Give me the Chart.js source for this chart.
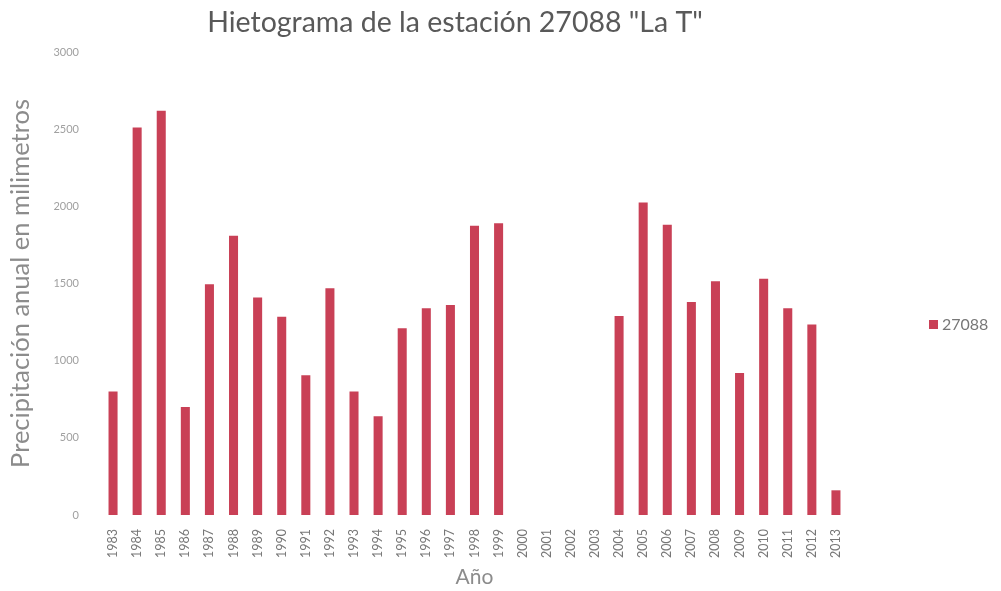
<!DOCTYPE html>
<html>
<head>
<meta charset="utf-8">
<title>Hietograma 27088</title>
<script src="https://cdn.jsdelivr.net/npm/chart.js@4/dist/chart.umd.min.js"></script>
<style>
  html, body { margin: 0; padding: 0; background: #fff; }
  #wrap { width: 1001px; height: 591px; position: relative; }
</style>
</head>
<body>
<div id="wrap"><canvas id="myChart"></canvas></div>
<script>
var years = ['1983', '1984', '1985', '1986', '1987', '1988', '1989', '1990', '1991', '1992',
  '1993', '1994', '1995', '1996', '1997', '1998', '1999', '2000', '2001', '2002', '2003',
  '2004', '2005', '2006', '2007', '2008', '2009', '2010', '2011', '2012', '2013'];
// precipitacion anual (mm), sin registro 2000-2003
var precip = [800, 2510, 2620, 700, 1495, 1810, 1410, 1285, 905, 1470,
  800, 640, 1210, 1340, 1360, 1875, 1890, null, null, null, null,
  1290, 2025, 1880, 1380, 1515, 920, 1530, 1340, 1235, 160];
var yTicks = [0, 500, 1000, 1500, 2000, 2500, 3000];
var seriesName = '27088';
var chartTitle = 'Hietograma de la estación 27088 "La T"';

var barColor = '#c94056';
var ctx, myChart;

// titulo y leyenda dibujados a mano para dejarlos donde van
var titleAndKey = {
  id: 'titleAndKey',
  afterDraw: function (chart) {
    var c = chart.ctx;
    c.save();
    c.fillStyle = '#595959';
    c.font = '28.5px Lato';
    c.textAlign = 'center';
    c.textBaseline = 'middle';
    c.fillText(chartTitle, 455, 23);

    c.fillStyle = barColor;
    c.fillRect(929, 320, 9, 9);
    c.fillStyle = '#777';
    c.font = '16px Lato';
    c.textAlign = 'left';
    c.fillText(seriesName, 942, 325);
    c.restore();
  }
};

ctx = document.getElementById('myChart');
myChart = new Chart(ctx, {
  type: 'bar',
  data: {
    labels: years,
    datasets: [{
      label: seriesName,
      data: precip,
      backgroundColor: barColor,
      barPercentage: 0.75,
      categoryPercentage: 0.5
    }]
  },
  options: {
    responsive: true,
    maintainAspectRatio: false,
    animation: false,
    layout: {
      padding: { left: 0, right: 153, top: 52, bottom: 0 }
    },
    plugins: {
      legend: { display: false },
      title: { display: false },
      tooltip: { enabled: false }
    },
    scales: {
      x: {
        grid: { display: false },
        border: { display: false },
        ticks: {
          color: '#777',
          font: { family: 'Lato', size: 12.5 },
          minRotation: 90,
          maxRotation: 90,
          padding: 6,
          autoSkip: false
        },
        title: {
          display: true,
          text: 'Año',
          color: '#8c8c8c',
          font: { family: 'Lato', size: 21 },
          padding: { top: 4, bottom: 1 }
        },
        afterFit: function (scale) {
          scale.height = 76;
        }
      },
      y: {
        min: 0,
        max: 3000,
        grid: { display: false },
        border: { display: false },
        afterBuildTicks: function (scale) {
          scale.ticks = yTicks.map(function (v) { return { value: v }; });
        },
        ticks: {
          color: '#a0a0a0',
          font: { family: 'Lato', size: 11 },
          padding: 14,
          callback: function (value) {
            return String(value);
          }
        },
        title: {
          display: true,
          text: 'Precipitación anual en milimetros',
          color: '#8c8c8c',
          font: { family: 'Lato', size: 25.5 },
          padding: { top: 5, bottom: 4 }
        },
        afterFit: function (scale) {
          scale.width = 101;
        }
      }
    }
  },
  plugins: [titleAndKey]
});
</script>
</body>
</html>
